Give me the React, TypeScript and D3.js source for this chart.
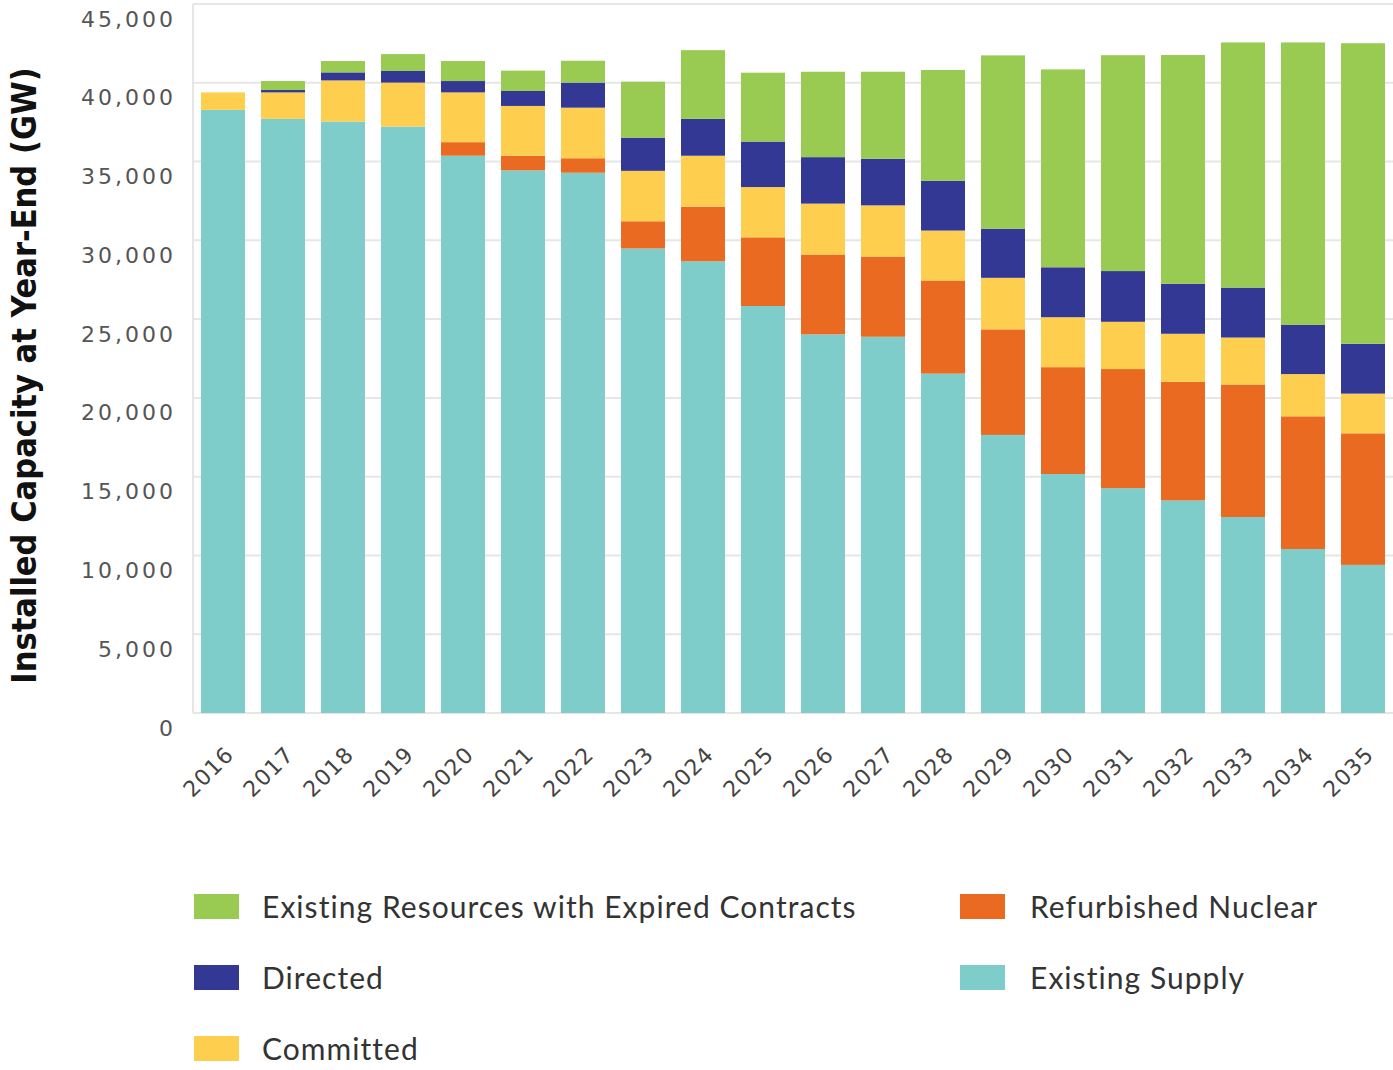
import React from 'react';
import * as d3 from 'd3';

const years = ['2016', '2017', '2018', '2019', '2020', '2021', '2022', '2023', '2024', '2025',
  '2026', '2027', '2028', '2029', '2030', '2031', '2032', '2033', '2034', '2035'];

const existingSupply = [38280, 37710, 37540, 37220, 35370, 34440, 34290, 29480, 28670, 25830,
  24030, 23880, 21540, 17650, 15170, 14270, 13490, 12440, 10410, 9400];
const refurbishedNuclear = [0, 0, 0, 0, 860, 930, 920, 1730, 3470, 4360,
  5070, 5090, 5910, 6700, 6780, 7560, 7530, 8410, 8420, 8350];
const committed = [1110, 1680, 2610, 2790, 3160, 3160, 3210, 3200, 3230, 3190,
  3230, 3250, 3170, 3270, 3170, 3000, 3050, 2980, 2680, 2520];
const directed = [0, 150, 510, 740, 720, 950, 1590, 2110, 2340, 2890,
  2950, 2960, 3160, 3120, 3170, 3220, 3170, 3170, 3120, 3160];
const expiredContracts = [0, 570, 720, 1070, 1270, 1290, 1390, 3550, 4360, 4370,
  5420, 5520, 7030, 11000, 12560, 13700, 14520, 15560, 17930, 19080];

const yTicks = [0, 5000, 10000, 15000, 20000, 25000, 30000, 35000, 40000, 45000];

// stacking order, bottom to top
const seriesKeys = ['existing', 'nuclear', 'committed', 'directed', 'expired'];
const seriesColors: Record<string, string> = {
  existing: '#7ecdcb',
  nuclear: '#eb6a22',
  committed: '#fecf4e',
  directed: '#333894',
  expired: '#99ca52',
};

const legendCol1 = [
  { key: 'expired', label: 'Existing Resources with Expired Contracts' },
  { key: 'directed', label: 'Directed' },
  { key: 'committed', label: 'Committed' },
];
const legendCol2 = [
  { key: 'nuclear', label: 'Refurbished Nuclear' },
  { key: 'existing', label: 'Existing Supply' },
];

const width = 1393;
const height = 1070;
const plot = { left: 193, right: 1393, top: 4, bottom: 713 };

const App = () => {
  const rows = years.map((year, i) => ({
    year,
    existing: existingSupply[i],
    nuclear: refurbishedNuclear[i],
    committed: committed[i],
    directed: directed[i],
    expired: expiredContracts[i],
  }));

  const stacked = d3.stack<any>().keys(seriesKeys)(rows);

  const x = d3.scaleBand()
    .domain(years)
    .range([plot.left, plot.right])
    .paddingInner(0.267)
    .paddingOuter(0.1335);

  const y = d3.scaleLinear()
    .domain([0, 45000])
    .range([plot.bottom, plot.top]);

  const fmt = d3.format(',');

  return (
    <svg width={width} height={height} style={{ position: 'absolute', left: 0, top: 0, background: '#fff' }}>
      {/* grid */}
      <g>
        {yTicks.map((t) => (
          <line key={t} x1={plot.left} x2={plot.right} y1={y(t)} y2={y(t)}
            stroke="#e6e6e6" strokeWidth={2} />
        ))}
        <line x1={plot.left} x2={plot.left} y1={plot.top} y2={plot.bottom} stroke="#e6e6e6" strokeWidth={2} />
      </g>

      {/* y tick labels */}
      <g fontFamily="'DejaVu Sans', sans-serif" fontSize={22} fill="#555" letterSpacing={3}>
        {yTicks.map((t) => (
          <text key={t} x={176} y={y(t) + 15} textAnchor="end" dominantBaseline="central">
            {fmt(t)}
          </text>
        ))}
      </g>

      {/* bars */}
      {stacked.map((layer) => (
        <g key={layer.key} fill={seriesColors[layer.key]}>
          {layer.map((d: any) => (
            <rect key={d.data.year}
              x={x(d.data.year)}
              y={y(d[1])}
              width={x.bandwidth()}
              height={Math.max(0, y(d[0]) - y(d[1]))} />
          ))}
        </g>
      ))}

      {/* x tick labels */}
      <g fontFamily="'DejaVu Sans', sans-serif" fontSize={22} fill="#444" letterSpacing={1}>
        {years.map((yr) => {
          const cx = (x(yr) as number) + x.bandwidth() / 2;
          return (
            <text key={yr} textAnchor="end"
              transform={`translate(${cx + 12},${plot.bottom + 43}) rotate(-45)`}>
              {yr}
            </text>
          );
        })}
      </g>

      {/* y axis title */}
      <text transform={`translate(36,${(plot.top + plot.bottom) / 2 + 17}) rotate(-90)`}
        textAnchor="middle" fontFamily="'Liberation Sans Narrow', 'DejaVu Sans Condensed', sans-serif"
        fontWeight="bold" fontSize={34} fill="#111">
        Installed Capacity at Year-End (GW)
      </text>

      {/* legend */}
      <g fontFamily="Lato, sans-serif" fontSize={30} fill="#333" letterSpacing={1.05}>
        {legendCol1.map((d, i) => (
          <g key={d.key} transform={`translate(194,${894 + i * 71})`}>
            <rect width={45} height={25} fill={seriesColors[d.key]} />
            <text x={68} y={12} dominantBaseline="central">{d.label}</text>
          </g>
        ))}
        {legendCol2.map((d, i) => (
          <g key={d.key} transform={`translate(960,${894 + i * 71})`}>
            <rect width={45} height={25} fill={seriesColors[d.key]} />
            <text x={70} y={12} dominantBaseline="central">{d.label}</text>
          </g>
        ))}
      </g>
    </svg>
  );
};

export default App;
